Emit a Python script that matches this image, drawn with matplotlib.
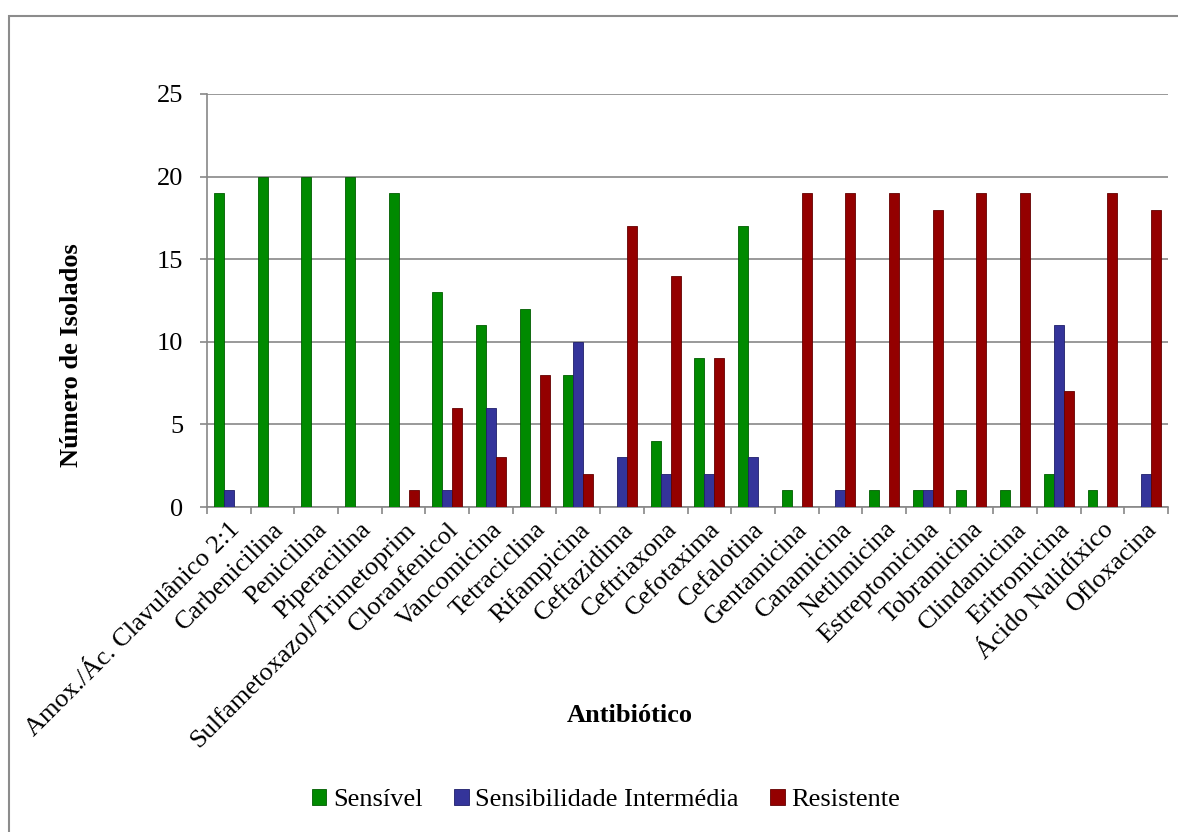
import numpy as np
import matplotlib.pyplot as plt
from matplotlib.patches import Rectangle

antibioticos = ["Amox./Ác. Clavulânico 2:1", "Carbenicilina", "Penicilina", "Piperacilina",
                "Sulfametoxazol/Trimetoprim", "Cloranfenicol", "Vancomicina", "Tetraciclina",
                "Rifampicina", "Ceftazidima", "Ceftriaxona", "Cefotaxima", "Cefalotina",
                "Gentamicina", "Canamicina", "Netilmicina", "Estreptomicina", "Tobramicina",
                "Clindamicina", "Eritromicina", "Ácido Nalidíxico", "Ofloxacina"]
sensivel = [19, 20, 20, 20, 19, 13, 11, 12, 8, 0, 4, 9, 17, 1, 0, 1, 1, 1, 1, 2, 1, 0]
intermedia = [1, 0, 0, 0, 0, 1, 6, 0, 10, 3, 2, 2, 3, 0, 1, 0, 1, 0, 0, 11, 0, 2]
resistente = [0, 0, 0, 0, 1, 6, 3, 8, 2, 17, 14, 9, 0, 19, 19, 19, 18, 19, 19, 7, 19, 18]

plt.rcParams['font.family'] = ['Liberation Serif', 'DejaVu Serif']

W, H = 1178, 832
fig = plt.figure(figsize=(W / 100, H / 100), dpi=100)
ax = fig.add_axes([207 / W, 1 - 507 / H, (1168 - 207) / W, (507 - 94) / H])

x = np.arange(len(antibioticos))
w = 0.228
series = [(sensivel, "Sensível", "#008a00", "#005c00"),
          (intermedia, "Sensibilidade Intermédia", "#34349a", "#1f1f6a"),
          (resistente, "Resistente", "#940000", "#640000")]
for i, (vals, lab, col, edge) in enumerate(series):
    ax.bar(x + (i - 1) * w, vals, width=w, color=col, edgecolor=edge,
           linewidth=0.6, label=lab, zorder=3)

ax.set_xlim(-0.5, len(antibioticos) - 0.5)
ax.set_ylim(0, 25)
ax.set_yticks(range(0, 26, 5))
ax.tick_params(axis='y', labelsize=19, length=5, color='#888888', width=1.2, pad=12)
ax.yaxis.grid(True, color='#888888', linewidth=1.2, zorder=0)
ax.set_axisbelow(True)

ax.set_xticks(x)
ax.set_xticklabels(antibioticos, rotation=45, ha='right', rotation_mode='anchor', fontsize=19)
ax.set_xticks(np.arange(-0.5, len(antibioticos), 1), minor=True)
ax.tick_params(axis='x', which='major', length=0, pad=8)
ax.tick_params(axis='x', which='minor', length=5, color='#888888', width=1.2)

for s in ['top', 'right']:
    ax.spines[s].set_visible(False)
for s in ['left', 'bottom']:
    ax.spines[s].set_color('#888888')
    ax.spines[s].set_linewidth(1.2)

fig.text(72 / W, 1 - 355 / H, "Número de Isolados", fontsize=19, fontweight='bold',
         rotation=90, ha='center', va='center')
fig.text(630 / W, 1 - 715 / H, "Antibiótico", fontsize=19,
         fontweight='bold', ha='center', va='center')

fig.legend(loc='center', bbox_to_anchor=(606 / W, 1 - 800 / H),
           ncol=3, frameon=False, fontsize=19, handlelength=0.55, handleheight=0.55,
           handletextpad=0.25, columnspacing=1.2)

# chart-area frame: only left and top edges fall inside the image
fig.patches.append(Rectangle((9 / W, -0.05), 1.2, 1 - 16 / H + 0.05,
                             transform=fig.transFigure, fill=False,
                             edgecolor='#8c8c8c', linewidth=1.5))

fig.savefig("out.png", dpi=100)
